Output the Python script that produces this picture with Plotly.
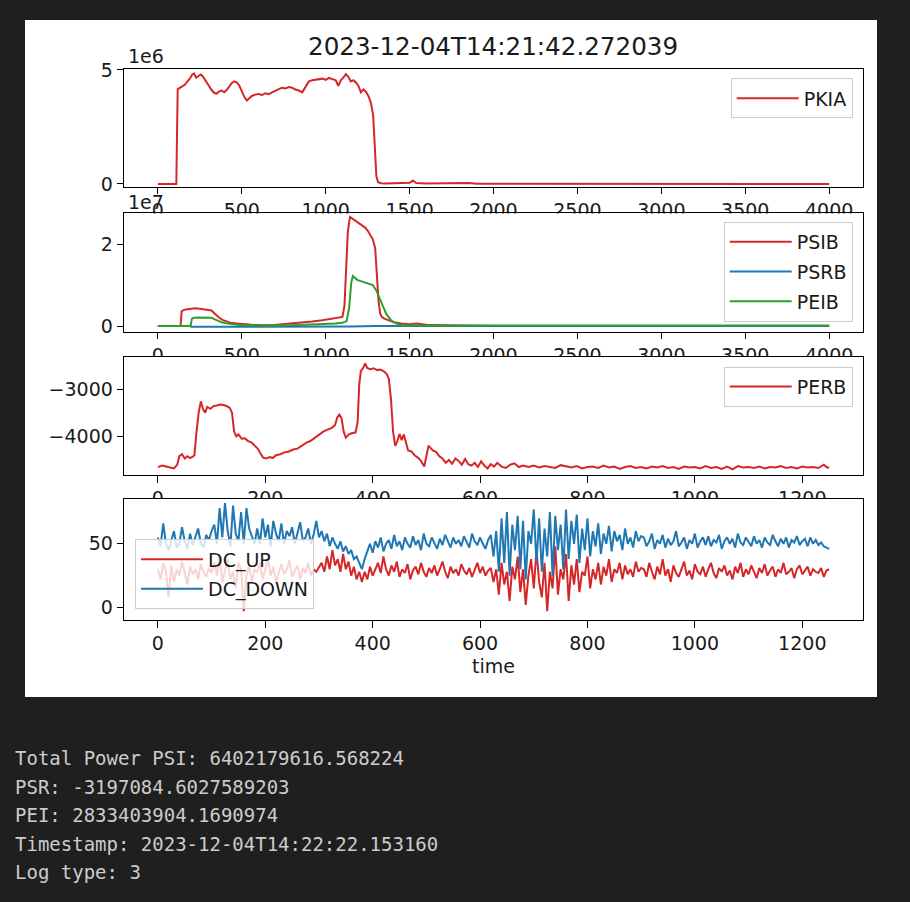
import plotly.graph_objects as go

# ---------------- data ----------------
title_text = "2023-12-04T14:21:42.272039"

# PKIA (time, value)
pkia_points = [
    (0, 0), (60, 0), (110, 0), (118, 4.15e6), (130, 4.22e6), (145, 4.28e6), (160, 4.35e6),
    (175, 4.48e6), (190, 4.62e6), (205, 4.80e6), (215, 4.85e6), (228, 4.66e6), (240, 4.72e6),
    (255, 4.80e6), (268, 4.72e6), (280, 4.60e6), (292, 4.48e6), (305, 4.30e6), (320, 4.12e6),
    (335, 4.00e6), (350, 3.96e6), (365, 4.06e6), (380, 4.10e6), (395, 4.02e6), (410, 4.12e6),
    (425, 4.28e6), (440, 4.42e6), (455, 4.50e6), (470, 4.46e6), (485, 4.32e6), (500, 4.08e6),
    (515, 3.82e6), (530, 3.66e6), (545, 3.74e6), (560, 3.86e6), (580, 3.92e6), (600, 3.95e6),
    (620, 3.90e6), (640, 3.98e6), (660, 3.94e6), (680, 4.02e6), (700, 4.08e6), (720, 4.16e6),
    (740, 4.22e6), (760, 4.19e6), (780, 4.25e6), (800, 4.22e6), (820, 4.14e6), (840, 4.10e6),
    (860, 4.02e6), (880, 4.25e6), (900, 4.50e6), (920, 4.55e6), (940, 4.58e6), (960, 4.60e6),
    (980, 4.62e6), (1000, 4.57e6), (1020, 4.65e6), (1040, 4.60e6), (1060, 4.55e6), (1075, 4.30e6),
    (1090, 4.55e6), (1105, 4.66e6), (1120, 4.82e6), (1135, 4.70e6), (1150, 4.50e6), (1165, 4.55e6),
    (1180, 4.45e6), (1195, 4.30e6), (1210, 4.02e6), (1225, 4.15e6), (1240, 4.05e6), (1255, 3.85e6),
    (1270, 3.55e6), (1283, 3.00e6), (1293, 1.60e6), (1302, 0.35e6), (1312, 0.08e6), (1330, 0.03e6),
    (1360, 0.02e6), (1400, 0.03e6), (1450, 0.01e6), (1500, 0.05e6), (1520, 0.15e6), (1540, 0.04e6),
    (1600, 0.02e6), (1700, 0.03e6), (1800, 0.02e6), (1850, 0.04e6), (1900, 0.01e6), (2000, 0.01e6),
    (2500, 0), (3000, 0), (3500, 0), (4000, 0),
]

time_psib = [0, 100, 135, 142, 160, 180, 200, 220, 250, 280, 300, 320, 340, 360, 385, 410, 430, 470,
             520, 560, 620, 680, 740, 800, 860, 920, 980, 1040, 1080, 1100, 1112, 1122, 1132, 1145,
             1160, 1175, 1190, 1205, 1220, 1235, 1250, 1265, 1280, 1295, 1305, 1315, 1325, 1335, 1350,
             1370, 1400, 1450, 1500, 1540, 1560, 1600, 1700, 1800, 1900, 2000, 2100, 2500, 3000, 3500, 4000]
psib = [0, 0, 0, 0.36e7, 0.40e7, 0.41e7, 0.42e7, 0.43e7, 0.42e7, 0.41e7, 0.40e7, 0.38e7, 0.30e7,
        0.22e7, 0.15e7, 0.10e7, 0.08e7, 0.06e7, 0.04e7, 0.03e7, 0.02e7, 0.02e7, 0.04e7, 0.06e7,
        0.08e7, 0.11e7, 0.14e7, 0.18e7, 0.20e7, 0.22e7, 0.50e7, 1.50e7, 2.30e7, 2.66e7, 2.62e7,
        2.56e7, 2.52e7, 2.49e7, 2.45e7, 2.40e7, 2.33e7, 2.22e7, 2.12e7, 1.90e7, 1.30e7, 0.60e7,
        0.30e7, 0.22e7, 0.18e7, 0.15e7, 0.10e7, 0.06e7, 0.04e7, 0.06e7, 0.05e7, 0.03e7, 0.02e7,
        0.01e7, 0.01e7, 0, 0, 0, 0, 0, 0]

time_psrb = [0, 190, 200, 400, 700, 1000, 1100, 1150, 1300, 1500, 2000, 3000, 4000]
psrb = [0, 0, -0.02e7, -0.02e7, -0.02e7, -0.02e7, -0.02e7, -0.01e7, 0, 0, 0, 0, 0]

time_peib = [0, 100, 195, 203, 215, 240, 270, 300, 320, 340, 360, 380, 400, 430, 470, 520, 600, 700,
             800, 900, 1000, 1060, 1100, 1125, 1140, 1152, 1162, 1175, 1190, 1205, 1220, 1240, 1260,
             1280, 1300, 1315, 1330, 1345, 1360, 1375, 1390, 1410, 1440, 1480, 1520, 1600, 1800, 2000,
             2500, 3000, 3500, 4000]
peib = [0, 0, 0, 0.18e7, 0.20e7, 0.21e7, 0.20e7, 0.19e7, 0.20e7, 0.16e7, 0.12e7, 0.09e7, 0.07e7,
        0.05e7, 0.03e7, 0.02e7, 0.01e7, 0.01e7, 0.02e7, 0.03e7, 0.05e7, 0.06e7, 0.08e7, 0.12e7,
        0.45e7, 1.05e7, 1.22e7, 1.18e7, 1.12e7, 1.10e7, 1.08e7, 1.06e7, 1.04e7, 1.00e7, 0.88e7,
        0.75e7, 0.62e7, 0.45e7, 0.30e7, 0.22e7, 0.14e7, 0.08e7, 0.03e7, 0.01e7, 0.01e7, 0.01e7,
        0.01e7, 0.01e7, 0.01e7, 0.01e7, 0.01e7, 0.01e7]

# PERB (time, value)
perb_points = [
    (0, -4651), (8, -4620), (15, -4640), (22, -4660), (30, -4680), (36, -4600), (40, -4420),
    (45, -4380), (50, -4470), (55, -4420), (60, -4460), (65, -4430), (68, -4400), (72, -3900),
    (76, -3500), (80, -3260), (84, -3420), (88, -3500), (92, -3380), (98, -3420), (104, -3360),
    (110, -3350), (116, -3330), (122, -3340), (128, -3360), (134, -3400), (138, -3500), (142, -3900),
    (146, -4000), (150, -3960), (156, -4050), (162, -4040), (168, -4100), (174, -4130), (180, -4200),
    (186, -4260), (192, -4380), (196, -4450), (202, -4470), (208, -4440), (214, -4460), (220, -4400),
    (228, -4380), (236, -4340), (244, -4320), (252, -4280), (260, -4260), (268, -4200), (276, -4140),
    (284, -4100), (292, -4030), (300, -3960), (308, -3900), (316, -3860), (324, -3820), (330, -3760),
    (334, -3600), (338, -3540), (342, -3620), (346, -3900), (350, -4030), (356, -3960), (362, -3930),
    (368, -3920), (372, -3700), (375, -2900), (378, -2620), (382, -2560), (386, -2460), (390, -2560),
    (396, -2580), (402, -2560), (408, -2600), (414, -2590), (420, -2620), (426, -2680), (430, -2780),
    (434, -3200), (438, -3900), (442, -4200), (446, -4100), (450, -3950), (454, -4080), (458, -3960),
    (462, -4150), (466, -4300), (472, -4320), (478, -4400), (484, -4450), (490, -4520), (496, -4640),
    (500, -4450), (504, -4200), (508, -4250), (512, -4300), (518, -4330), (524, -4420), (530, -4470),
    (536, -4560), (542, -4500), (548, -4580), (554, -4470), (560, -4520), (566, -4600), (572, -4480),
    (578, -4590), (584, -4620), (590, -4560), (596, -4650), (602, -4530), (608, -4620), (614, -4680),
    (620, -4590), (626, -4640), (632, -4560), (640, -4640), (648, -4670), (656, -4600), (664, -4570),
    (672, -4650), (680, -4620), (690, -4650), (700, -4620), (710, -4660), (720, -4630), (730, -4650),
    (740, -4670), (750, -4610), (760, -4640), (770, -4660), (780, -4630), (790, -4680), (800, -4650),
    (810, -4640), (820, -4670), (830, -4620), (840, -4660), (850, -4640), (860, -4690), (870, -4650),
    (880, -4630), (890, -4670), (900, -4650), (910, -4680), (920, -4640), (930, -4660), (940, -4630),
    (950, -4670), (960, -4650), (970, -4690), (980, -4640), (990, -4660), (1000, -4650), (1010, -4680),
    (1020, -4630), (1030, -4670), (1040, -4650), (1050, -4690), (1060, -4640), (1070, -4700),
    (1080, -4630), (1090, -4660), (1100, -4650), (1110, -4670), (1120, -4640), (1130, -4680),
    (1140, -4650), (1150, -4660), (1160, -4630), (1170, -4670), (1180, -4650), (1190, -4680),
    (1200, -4640), (1210, -4660), (1220, -4650), (1230, -4670), (1240, -4600), (1245, -4650),
    (1250, -4670),
]

dc_step = 5
dc_down = [
    55, 48, 66, 50, 45, 52, 60, 47, 50, 63, 52, 46, 58, 49, 55, 62, 50, 47, 57, 53, 60,
    65, 50, 78, 55, 82, 60, 48, 80, 58, 52, 75, 50, 78, 62, 55, 50,
    62, 50, 70, 55, 65, 48, 68, 58, 52, 66, 50, 60, 56, 63, 50, 58, 67, 52, 55, 62, 50, 57, 68, 55,
    60, 52, 58, 48, 55, 50, 46, 52, 44, 48, 42, 45, 38, 40, 35, 30,
    38, 45, 50, 43, 52, 47, 55, 44, 50, 53, 46, 57, 48, 52, 45, 55, 50, 47, 56, 49,
    53, 45, 58, 50, 48, 55, 51, 46, 54, 49, 57, 52, 47, 55, 50, 53, 48, 56, 51, 47,
    58, 52, 49, 55, 50, 46, 53, 57,
    40, 60, 28, 70, 35, 75, 25, 65, 45, 72, 30, 68, 22, 60, 50, 77, 35, 70, 28, 62,
    40, 75, 25, 72, 45, 65, 30, 77, 38, 68, 50, 73, 35, 62, 45, 70, 40, 60, 48, 66,
    42, 58, 50, 64, 44, 60, 52, 57, 45, 62, 50, 55, 47, 60, 52, 56,
    55, 48, 52, 58, 46, 53, 50, 57, 47, 54, 49, 52, 60, 48, 51, 55, 46, 53, 50, 58,
    47, 52, 55, 49, 56, 48, 53, 51, 57, 46, 52, 55, 50, 54, 47, 58, 51, 49, 55, 52,
    48, 56, 50, 53, 47, 55, 51, 49, 57, 52, 48, 54, 50, 55, 47, 53, 51, 56, 49, 52,
    54, 48, 55, 50, 53, 49, 51, 48, 47, 46,
]
dc_up = [
    30, 22, 35, 28, 8, 33, 20, 30, 25, 36, 27, 18, 32, 26, 30, 22, 34, 28, 24, 31, 27,
    35, 25, 40, 20, 30, 38, 22, 28, 15, 35, 30, -3, 25, 33, 20, 30,
    28, 35, 22, 30, 38, 25, 32, 20, 28, 34, 26, 30, 37, 24, 29, 33, 22, 31, 27, 35, 25, 30, 28, 32,
    35, 28, 40, 30, 45, 33, 38, 28, 42, 30, 36, 25, 32, 22, 28, 20,
    28, 22, 32, 25, 30, 35, 27, 40, 30, 25, 33, 28, 36, 24, 30, 27, 34, 22, 29, 32,
    26, 35, 28, 24, 31, 27, 33, 25, 30, 36, 28, 23, 32, 27, 30, 25, 34, 29, 26, 31,
    24, 30, 35, 27, 32, 25, 29, 31,
    20, 30, 10, 35, 18, 28, 5, 32, 22, 40, 12, 30, 2, 25, 38, 15, 45, 20, 8, 35,
    -3, 28, 15, 48, 10, 30, 22, 42, 5, 33, 18, 38, 12, 28, 25, 40, 15, 30, 22, 35,
    18, 32, 25, 38, 20, 30, 27, 35, 22, 33, 26, 30, 24, 36, 28, 31,
    30, 24, 35, 28, 22, 32, 26, 38, 25, 30, 20, 33, 27, 24, 31, 36, 25, 29, 22, 34,
    28, 26, 32, 24, 30, 35, 27, 23, 31, 28, 33, 25, 29, 22, 32, 27, 35, 24, 30, 26,
    33, 28, 23, 31, 27, 34, 25, 29, 32, 24, 30, 27, 35, 26, 28, 31, 23, 30, 33, 26,
    29, 32, 25, 30, 28, 27, 31, 24, 29, 30,
]

ticks_long = [0, 500, 1000, 1500, 2000, 2500, 3000, 3500, 4000]
ticks_short = [0, 200, 400, 600, 800, 1000, 1200]

output_lines = [
    "Total Power PSI: 6402179616.568224",
    "PSR: -3197084.6027589203",
    "PEI: 2833403904.1690974",
    "Timestamp: 2023-12-04T14:22:22.153160",
    "Log type: 3",
]

# ---------------- figure ----------------
W, H = 910, 902
BG = "#1f1f1f"
RED, BLUE, GREEN = "#d62728", "#1f77b4", "#2ca02c"
FONT = "DejaVu Sans"
TXT = "#1a1a1a"
FS = 19


def fx(p):
    return p / W


def fy(p):
    return 1 - p / H


t_pkia = [p[0] for p in pkia_points]
v_pkia = [p[1] for p in pkia_points]
t_perb = [p[0] for p in perb_points]
v_perb = [p[1] for p in perb_points]
t_dc = [i * dc_step for i in range(len(dc_up))]

lw = 2.0
fig = go.Figure()
fig.add_trace(go.Scatter(x=t_pkia, y=v_pkia, mode="lines", name="PKIA", line=dict(color=RED, width=lw),
                         xaxis="x", yaxis="y", legend="legend"))
fig.add_trace(go.Scatter(x=time_psib, y=psib, mode="lines", name="PSIB", line=dict(color=RED, width=lw),
                         xaxis="x2", yaxis="y2", legend="legend2", legendgroup="a"))
fig.add_trace(go.Scatter(x=time_psrb, y=psrb, mode="lines", name="PSRB", line=dict(color=BLUE, width=lw),
                         xaxis="x2", yaxis="y2", legend="legend2", legendgroup="b"))
fig.add_trace(go.Scatter(x=time_peib, y=peib, mode="lines", name="PEIB", line=dict(color=GREEN, width=lw),
                         xaxis="x2", yaxis="y2", legend="legend2", legendgroup="c"))
fig.add_trace(go.Scatter(x=t_perb, y=v_perb, mode="lines", name="PERB", line=dict(color=RED, width=lw),
                         xaxis="x3", yaxis="y3", legend="legend3"))
fig.add_trace(go.Scatter(x=t_dc, y=dc_up, mode="lines", name="DC_UP", line=dict(color=RED, width=lw),
                         xaxis="x4", yaxis="y4", legend="legend4", legendgroup="d"))
fig.add_trace(go.Scatter(x=t_dc, y=dc_down, mode="lines", name="DC_DOWN", line=dict(color=BLUE, width=lw),
                         xaxis="x4", yaxis="y4", legend="legend4", legendgroup="e"))

x_left, x_right = 124.3, 862.7
boxes = [(69.3, 186.7), (213.3, 331.7), (357.0, 475.0), (499.0, 620.0)]
xr_long = [-200, 4200]
xr_short = [-62.5, 1312.5]
yranges = [[-0.12e6, 5.03e6], [-0.139e7, 2.749e7], [-4818, -2323], [-9.9, 85.2]]

common = dict(showline=True, mirror=True, linecolor="black", linewidth=1.3, ticks="outside",
              ticklen=6.5, tickwidth=1.3, tickcolor="black", showgrid=False, zeroline=False,
              tickfont=dict(family=FONT, size=FS, color=TXT), fixedrange=True, automargin=False)

layout = dict(
    width=W, height=H, autosize=False,
    margin=dict(l=0, r=0, t=0, b=0, pad=0, autoexpand=False),
    paper_bgcolor=BG, plot_bgcolor="white",
    showlegend=True,
)

for i, (top, bot) in enumerate(boxes):
    n = "" if i == 0 else str(i + 1)
    xr = xr_long if i < 2 else xr_short
    tv = ticks_long if i < 2 else ticks_short
    layout["xaxis" + n] = dict(common, domain=[fx(x_left), fx(x_right)], anchor="y" + n, range=xr,
                               tickvals=tv, ticktext=[str(t) for t in tv])
    layout["yaxis" + n] = dict(common, domain=[fy(bot), fy(top)], anchor="x" + n, range=yranges[i])

layout["yaxis"]["tickvals"] = [0, 5e6]
layout["yaxis"]["ticktext"] = ["0", "5"]
layout["yaxis2"]["tickvals"] = [0, 2e7]
layout["yaxis2"]["ticktext"] = ["0", "2"]
layout["yaxis3"]["tickvals"] = [-4000, -3000]
layout["yaxis3"]["ticktext"] = ["\u22124000", "\u22123000"]
layout["yaxis4"]["tickvals"] = [0, 50]
layout["yaxis4"]["ticktext"] = ["0", "50"]
layout["xaxis4"]["title"] = dict(text="time", font=dict(family=FONT, size=FS, color=TXT), standoff=6)

leg_common = dict(bgcolor="rgba(255,255,255,0.8)", bordercolor="#cccccc", borderwidth=1,
                  font=dict(family=FONT, size=FS, color=TXT), tracegroupgap=2, itemwidth=62,
                  xref="container", yref="container")
layout["legend"] = dict(leg_common, x=fx(852.7), xanchor="right", y=fy(78.3), yanchor="top")
layout["legend2"] = dict(leg_common, x=fx(852.7), xanchor="right", y=fy(222.0), yanchor="top")
layout["legend3"] = dict(leg_common, x=fx(852.7), xanchor="right", y=fy(366.7), yanchor="top")
layout["legend4"] = dict(leg_common, x=fx(135), xanchor="left", y=fy(539.3), yanchor="top")

shapes = [dict(type="rect", xref="paper", yref="paper", x0=fx(25), x1=fx(877), y0=fy(697), y1=fy(20),
               fillcolor="white", line=dict(width=0), layer="below")]
# each subplot background drawn in its own layer so it masks the tick labels of the axes above it
for i in range(1, 4):
    n = str(i + 1)
    xr = xr_long if i < 2 else xr_short
    shapes.append(dict(type="rect", xref="x" + n, yref="y" + n, x0=xr[0], x1=xr[1],
                       y0=yranges[i][0], y1=yranges[i][1], fillcolor="white",
                       line=dict(width=0), layer="below"))
layout["shapes"] = shapes

ann = [
    dict(text=title_text, x=fx((x_left + x_right) / 2), y=fy(46), xref="paper", yref="paper",
         showarrow=False, xanchor="center", yanchor="middle", font=dict(family=FONT, size=24.6, color=TXT)),
    dict(text="1e6", x=fx(126), y=fy(56.5), xref="paper", yref="paper", showarrow=False,
         xanchor="left", yanchor="middle", font=dict(family=FONT, size=FS, color=TXT)),
    dict(text="1e7", x=fx(126), y=fy(202), xref="paper", yref="paper", showarrow=False,
         xanchor="left", yanchor="middle", font=dict(family=FONT, size=FS, color=TXT)),
]
line_y = [758, 786.5, 815, 843.5, 872]
for txt, yy in zip(output_lines, line_y):
    ann.append(dict(text=txt, x=fx(13), y=fy(yy), xref="paper", yref="paper", showarrow=False,
                    xanchor="left", yanchor="middle",
                    font=dict(family="DejaVu Sans Mono", size=19, color="#cccccc")))
layout["annotations"] = ann

fig.update_layout(layout)
fig.write_html(
    "out.html",
    config={"displayModeBar": False},
    post_script="document.body.style.margin='0';document.body.style.background='" + BG + "';",
)
